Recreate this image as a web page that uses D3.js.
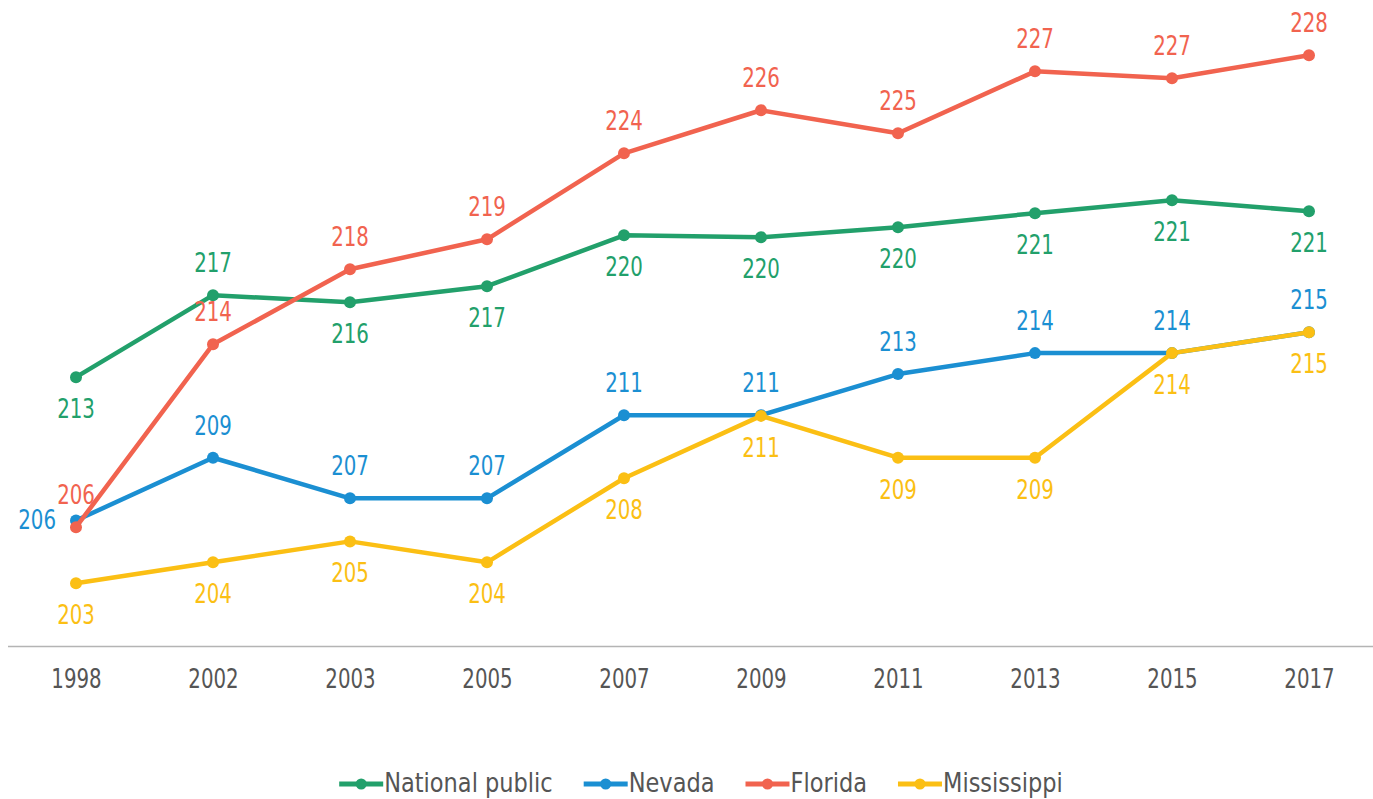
<!DOCTYPE html>
<html>
<head>
<meta charset="utf-8">
<script src="https://cdn.jsdelivr.net/npm/d3@7"></script>
<style>
  body { margin: 0; background: #fff; }
  svg { display: block; font-family: "DejaVu Sans Condensed", "DejaVu Sans", sans-serif; }
</style>
</head>
<body>
<div id="chart"></div>
<script>
// Years on the x axis
const years = ["1998", "2002", "2003", "2005", "2007", "2009", "2011", "2013", "2015", "2017"];

// Average scores (labels are rounded)
const nationalPublic = [212.85, 216.77, 216.43, 217.2, 219.63, 219.54, 220.02, 220.69, 221.31, 220.78];
const nevada = [206.0, 209.0, 207.06, 207.06, 211.03, 211.03, 213.0, 214.0, 214.0, 215.0];
const florida = [205.68, 214.42, 218.01, 219.44, 223.55, 225.61, 224.51, 227.47, 227.14, 228.24];
const mississippi = [203.0, 204.0, 205.0, 204.0, 208.02, 211.0, 209.0, 209.0, 214.0, 215.0];

const seriesNames = ["National public", "Nevada", "Florida", "Mississippi"];

const createLineChart = () => {
    const width = 1373, height = 799;
    const axisY = 646;

    // where each value label sits relative to its point
    const labelSide = {
        "National public": ["below", "above", "below", "below", "below", "below", "below", "below", "below", "below"],
        "Nevada": ["left", "above", "above", "above", "above", "above", "above", "above", "above", "above"],
        "Florida": Array(10).fill("above"),
        "Mississippi": Array(10).fill("below")
    };

    const colors = ["#22a06b", "#1b8fd2", "#f1634f", "#fbbf14"];
    const series = [nationalPublic, nevada, florida, mississippi].map((values, i) => ({
        name: seriesNames[i], values: values, color: colors[i]
    }));

    const svg = d3.select("#chart")
        .append("svg")
        .attr("width", width)
        .attr("height", height);

    const xScale = d3.scalePoint()
        .domain(years)
        .range([7.5, 1377.5])
        .padding(0.5);

    const yScale = d3.scaleLinear()
        .domain([200, 230])
        .range([axisY, 18.4]);

    const stretch = "scale(1,1.18)";

    // x axis
    const xAxis = svg.append("g")
        .attr("transform", `translate(0,${axisY})`)
        .call(d3.axisBottom(xScale).tickSize(0).tickSizeOuter(0));

    xAxis.select(".domain")
        .attr("stroke", "#b4b4b4")
        .attr("stroke-width", 1.5);

    xAxis.selectAll("text")
        .attr("y", 0)
        .attr("dy", null)
        .attr("transform", `translate(0,42) ${stretch}`)
        .attr("fill", "#555")
        .style("font-size", "22px")
        .style("font-family", "'DejaVu Sans Condensed', 'DejaVu Sans', sans-serif");

    const line = d3.line()
        .x((d, i) => xScale(years[i]))
        .y(d => yScale(d));

    // lines, dots and value labels
    series.forEach(s => {
        const g = svg.append("g");

        g.append("path")
            .datum(s.values)
            .attr("fill", "none")
            .attr("stroke", s.color)
            .attr("stroke-width", 4.5)
            .attr("stroke-linejoin", "round")
            .attr("d", line);

        g.selectAll("circle")
            .data(s.values)
            .enter()
            .append("circle")
            .attr("cx", (d, i) => xScale(years[i]))
            .attr("cy", d => yScale(d))
            .attr("r", 6)
            .attr("fill", s.color);

        g.selectAll("text")
            .data(s.values)
            .enter()
            .append("text")
            .attr("transform", (d, i) => {
                const px = xScale(years[i]);
                const py = yScale(d);
                const side = labelSide[s.name][i];
                if (side === "above") return `translate(${px},${py - 23}) ${stretch}`;
                if (side === "left") return `translate(${px - 20},${py + 9}) ${stretch}`;
                return `translate(${px},${py + 41}) ${stretch}`;
            })
            .attr("text-anchor", (d, i) => labelSide[s.name][i] === "left" ? "end" : "middle")
            .attr("fill", s.color)
            .style("font-size", "22px")
            .text(d => Math.round(d));
    });

    // legend
    const legend = svg.append("g");
    let cursor = 0;
    series.forEach(s => {
        const item = legend.append("g").attr("transform", `translate(${cursor},0)`);
        item.append("line")
            .attr("x1", 0).attr("x2", 44)
            .attr("y1", 0).attr("y2", 0)
            .attr("stroke", s.color)
            .attr("stroke-width", 5);
        item.append("circle")
            .attr("cx", 22).attr("cy", 0).attr("r", 5.5)
            .attr("fill", s.color);
        const t = item.append("text")
            .attr("transform", `translate(45,8) scale(1,1.05)`)
            .attr("fill", "#555")
            .style("font-size", "25px")
            .text(s.name);
        cursor += 45 + t.node().getComputedTextLength() + 31;
    });
    const legendWidth = cursor - 31;
    legend.attr("transform", `translate(${701 - legendWidth / 2},784)`);
};

createLineChart();
</script>
</body>
</html>
